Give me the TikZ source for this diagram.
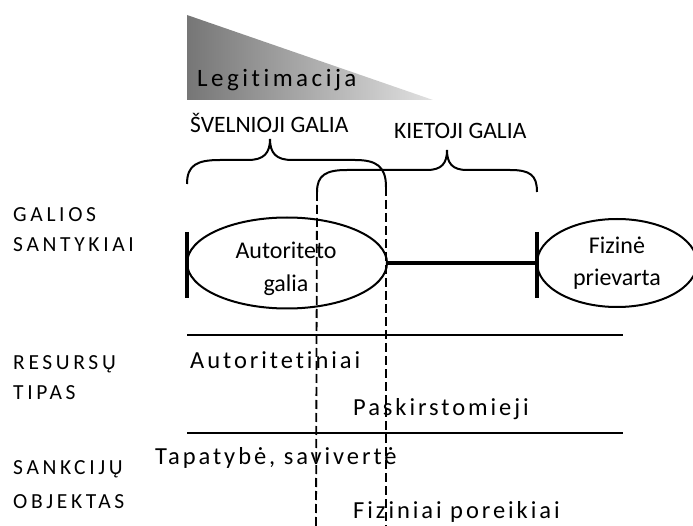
\documentclass[tikz,border=0pt]{standalone}
\usepackage{fontspec}
\setmainfont[Ligatures=NoCommon]{Carlito}
\newfontfamily\spacedA[LetterSpace=14,Ligatures=NoCommon]{Carlito}
\newfontfamily\spacedB[LetterSpace=17,Ligatures=NoCommon]{Carlito}
\newfontfamily\spacedC[LetterSpace=12,Ligatures=NoCommon]{Carlito}
\usetikzlibrary{shapes.geometric}
\definecolor{gradL}{RGB}{118,118,118}
\definecolor{gradR}{RGB}{225,225,225}
\tikzset{
  bigtxt/.style={font=\fontsize{24}{32.5}\selectfont},
  legtxt/.style={font=\spacedA\fontsize{25}{29}\selectfont, anchor=base west, inner sep=0pt},
  rowlabel/.style={font=\spacedB\fontsize{21.5}{24}\selectfont, anchor=base west, inner sep=0pt},
  restxt/.style={font=\spacedC\fontsize{24.5}{28}\selectfont, anchor=base west, inner sep=0pt},
  headtxt/.style={font=\fontsize{23.5}{28}\selectfont, anchor=base west, inner sep=0pt},
  ell/.style={draw, line width=2pt, ellipse, inner sep=0pt, align=center, bigtxt},
  ctxt/.style={align=center, inner sep=0pt, bigtxt},
  bracepath/.style={line width=2pt},
  rule/.style={line width=1.8pt},
  barline/.style={line width=3.8pt},
  thickline/.style={line width=3.2pt},
  dashline/.style={line width=1.8pt, dash pattern=on 9pt off 4pt},
}
\begin{document}
\begin{tikzpicture}[x=1pt,y=-1pt]
\useasboundingbox (0,0) rectangle (693,526);
% gradient triangle
\shade[left color=gradL, right color=gradR] (187,15) -- (187,100) -- (433,100) -- cycle;
\node[legtxt] (leg) at (197,87) {Legitimacija};
% headings
\node[headtxt] (soft) at (190,133) {ŠVELNIOJI GALIA};
\node[headtxt] (hard) at (394,139) {KIETOJI GALIA};
% braces
\coordinate (b1l) at (187,184);
\coordinate (b1t) at (270,139);
\coordinate (b1r) at (386,187);
\coordinate (b2l) at (317,192);
\coordinate (b2t) at (447,150);
\coordinate (b2r) at (537,192);
\draw[bracepath] (b1l) .. controls (187,165) and (197,160) .. (220,160) -- (248,160)
  .. controls (264,160) and (270,153) .. (b1t)
  .. controls (270,153) and (276,160) .. (292,160) -- (355,160)
  .. controls (376,160) and (386,166) .. (b1r);
\draw[bracepath] (b2l) .. controls (317,175) and (326,170) .. (347,170) -- (427,170)
  .. controls (442,170) and (447,163) .. (b2t)
  .. controls (447,163) and (452,170) .. (467,170) -- (510,170)
  .. controls (530,170) and (537,175) .. (b2r);
% ellipses
\node[ell, minimum width=200pt, minimum height=91pt] (auth) at (287,263) {};
\node[ctxt] (authtxt) at (286,269) {Autoriteto\\galia};
\node[ell, minimum width=160pt, minimum height=88pt] (fiz) at (617,263) {Fizinė\\prievarta};
\draw[thickline] (auth.east) -- (fiz.west);
\coordinate (bar1t) at (187,232);
\coordinate (bar1b) at (187,298);
\coordinate (bar2t) at (537,232);
\coordinate (bar2b) at (537,298);
\draw[barline] (bar1t) -- (bar1b);
\draw[barline] (bar2t) -- (bar2b);
% horizontal rules
\coordinate (r1l) at (187,335);
\coordinate (r1r) at (623,335);
\coordinate (r2l) at (187,433);
\coordinate (r2r) at (623,433);
\draw[rule] (r1l) -- (r1r);
\draw[rule] (r2l) -- (r2r);
% dashed lines
\coordinate (d1b) at (316,526);
\coordinate (d2b) at (386,526);
\draw[dashline] (b2l) -- (d1b);
\draw[dashline] (b1r) -- (d2b);
% row labels
\node[rowlabel] (l1) at (13,222) {GALIOS};
\node[rowlabel] (l2) at (13,252) {SANTYKIAI};
\node[rowlabel] (l3) at (13,369) {RESURSŲ};
\node[rowlabel] (l4) at (13,399) {TIPAS};
\node[rowlabel] (l5) at (13,474) {SANKCIJŲ};
\node[rowlabel] (l6) at (13,508) {OBJEKTAS};
% row contents
\node[restxt] (t1) at (190,368) {Autoritetiniai};
\node[restxt] (t2) at (353,415) {Paskirstomieji};
\node[restxt] (t3) at (155,464) {Tapatybė, savivertė};
\node[restxt] (t4) at (353,518) {Fiziniai poreikiai};
\end{tikzpicture}
\end{document}
